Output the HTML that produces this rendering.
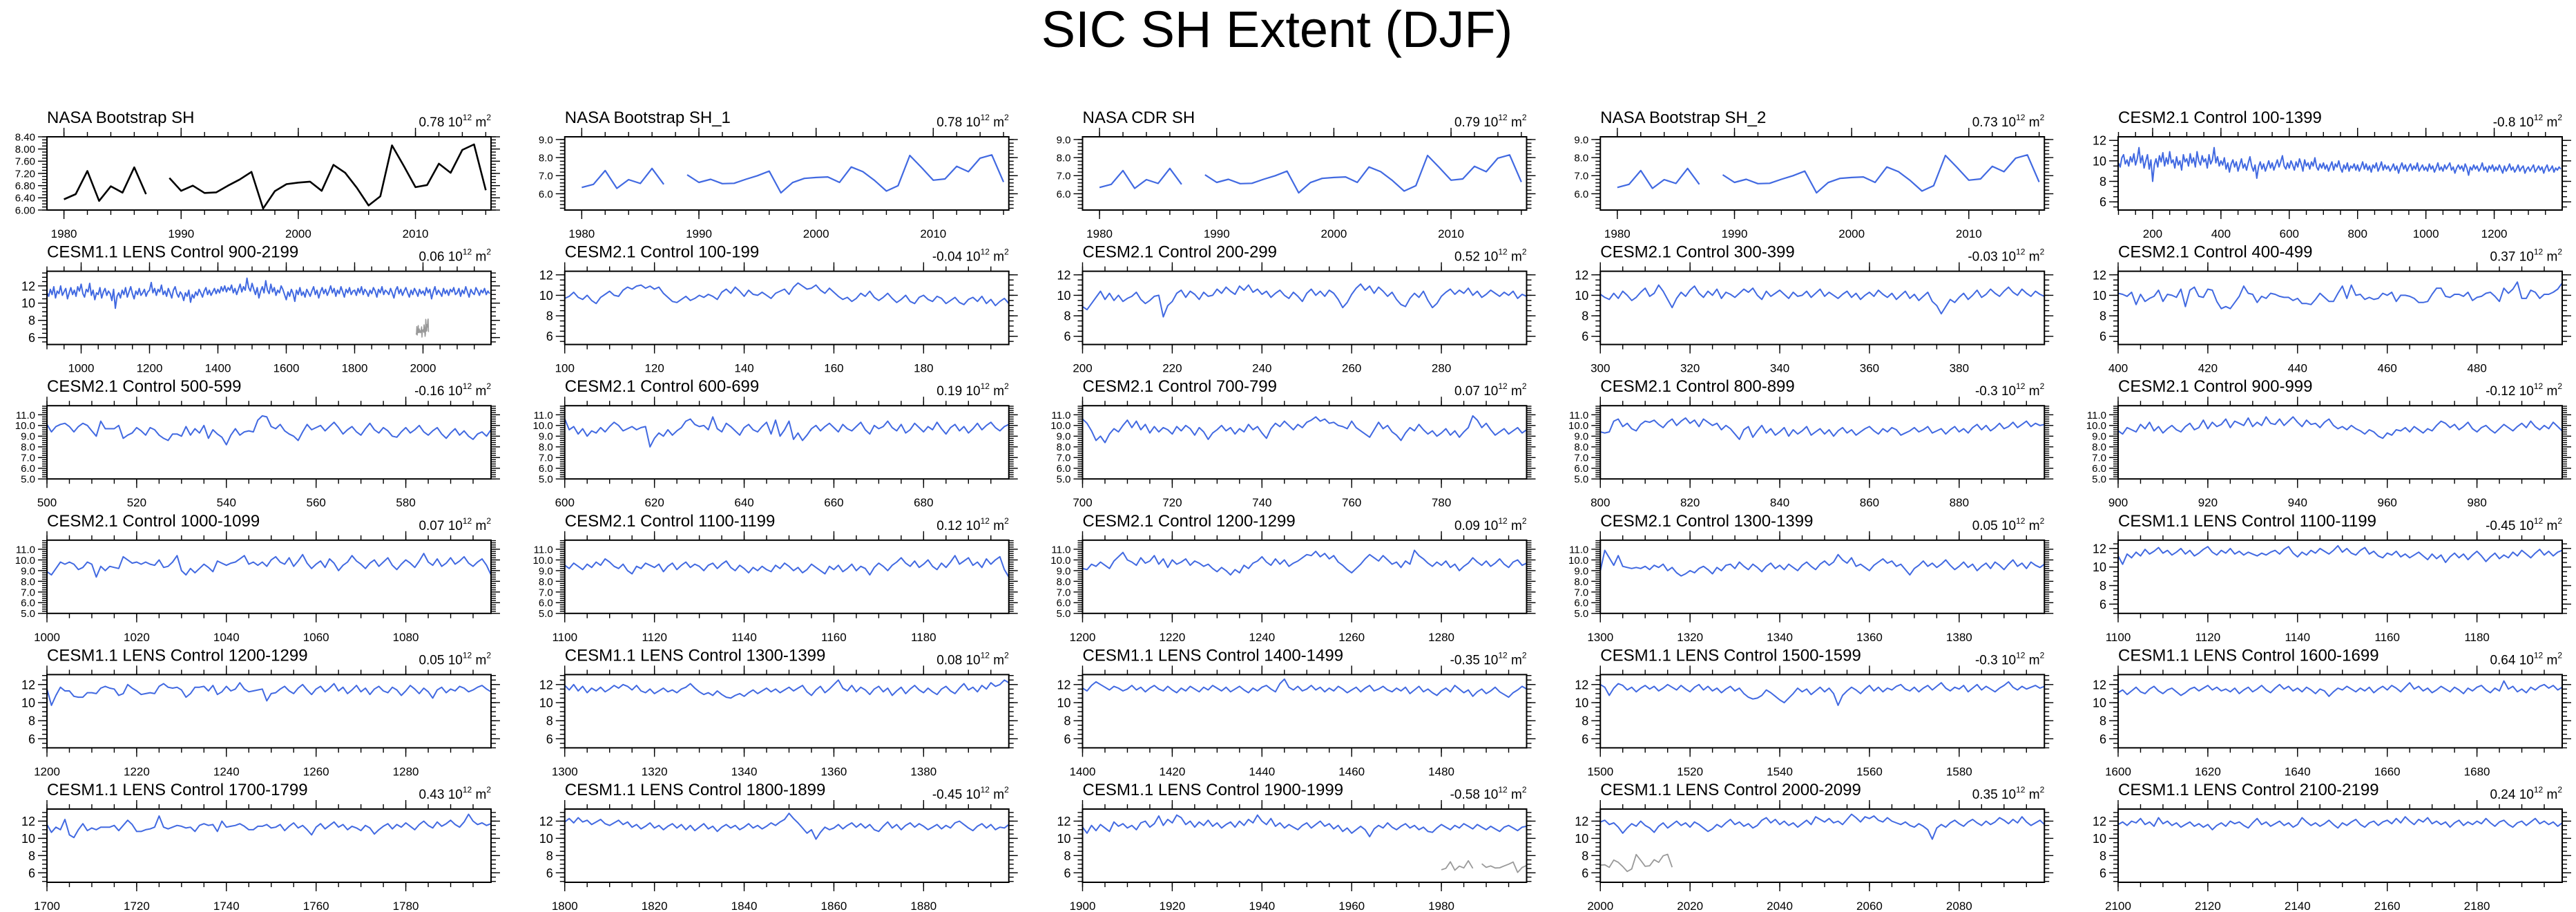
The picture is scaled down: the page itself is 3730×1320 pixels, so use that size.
<!DOCTYPE html>
<html><head><meta charset="utf-8"><title>SIC SH Extent (DJF)</title>
<style>
html,body{margin:0;padding:0;background:#fff;}
svg{display:block;font-family:"Liberation Sans",Arial,sans-serif;}
</style></head>
<body>
<svg id="fig" width="3730" height="1320" viewBox="0 0 3730 1320" xmlns="http://www.w3.org/2000/svg">
<rect width="3730" height="1320" fill="#fff"/>
<text x="1849" y="68" font-size="74" text-anchor="middle" fill="#000">SIC SH Extent (DJF)</text>
</svg>
<script>
// ---------- data (top-level arrays) ----------
const obsStart = 1980;
const obsBootstrap = [6.35,6.52,7.28,6.30,6.78,6.57,7.40,6.52,null,7.05,6.63,6.80,6.56,6.58,6.80,7.00,7.25,6.05,6.62,6.85,6.90,6.93,6.63,7.48,7.22,6.73,6.15,6.45,8.12,7.45,6.75,6.82,7.52,7.22,7.97,8.15,6.65];
const obsBootstrap1 = [6.35,6.52,7.28,6.30,6.78,6.57,7.40,6.52,null,7.05,6.63,6.80,6.56,6.58,6.80,7.00,7.25,6.05,6.62,6.85,6.90,6.93,6.63,7.48,7.22,6.73,6.15,6.45,8.12,7.45,6.75,6.82,7.52,7.22,7.97,8.15,6.65];
const obsCDR = [6.35,6.52,7.28,6.30,6.78,6.57,7.40,6.52,null,7.05,6.63,6.80,6.56,6.58,6.80,7.00,7.25,6.05,6.62,6.85,6.90,6.93,6.63,7.48,7.22,6.73,6.15,6.45,8.12,7.45,6.75,6.82,7.52,7.22,7.97,8.15,6.65];
const obsBootstrap2 = [6.35,6.52,7.28,6.30,6.78,6.57,7.40,6.52,null,7.05,6.63,6.80,6.56,6.58,6.80,7.00,7.25,6.05,6.62,6.85,6.90,6.93,6.63,7.48,7.22,6.73,6.15,6.45,8.12,7.45,6.75,6.82,7.52,7.22,7.97,8.15,6.65];

// long runs sampled every 5 years
const lens900Start = 900, lens900Step = 5;
const lens900_2199 = [
11.2,10.8,11.6,11.0,11.9,10.6,11.4,11.1,12.0,10.9,11.3,11.7,10.5,11.2,11.8,11.0,11.5,10.8,11.9,11.4,
12.2,11.1,10.7,11.6,11.3,12.3,10.9,11.5,10.4,11.2,11.0,11.8,10.6,11.3,11.7,10.9,11.4,11.1,10.3,11.6,
9.4,10.8,11.2,10.6,11.5,11.0,11.8,10.7,11.3,11.9,11.1,10.5,11.4,11.0,11.7,10.9,11.2,11.6,10.8,11.3,
11.5,12.4,11.2,11.7,10.9,11.6,11.3,12.1,11.0,11.4,10.8,11.7,11.2,10.6,11.5,11.9,11.1,10.7,11.3,11.0,
10.3,11.2,10.8,11.5,10.1,11.0,10.6,11.3,10.9,11.6,11.2,10.7,11.4,11.8,11.0,11.5,10.9,11.3,11.7,11.1,
11.6,11.2,11.9,11.4,12.0,11.3,11.8,11.5,12.1,11.2,11.7,11.0,11.6,12.2,11.3,11.9,11.5,12.9,11.8,11.4,
12.3,11.6,11.0,11.8,10.6,11.4,11.9,11.2,12.6,11.5,11.1,12.2,11.3,11.8,10.9,11.5,11.2,12.0,11.6,11.0,
10.4,11.3,10.8,11.6,11.1,10.2,11.5,11.0,11.8,10.9,11.3,10.7,11.6,11.2,10.8,11.4,11.9,11.0,11.5,10.6,
11.3,11.8,11.1,11.6,10.9,11.4,12.0,11.2,11.7,10.8,11.5,11.1,11.9,11.3,10.7,11.6,11.2,11.8,11.0,11.4,
11.5,10.9,11.7,11.2,11.9,11.0,11.6,11.3,10.8,11.5,11.1,11.8,11.4,10.7,11.6,11.2,11.9,11.0,11.5,11.3,
11.0,11.7,11.2,10.6,11.5,11.9,11.1,11.6,10.9,11.4,11.8,11.2,10.7,11.5,11.0,11.7,11.3,10.8,11.6,11.1,
11.4,10.9,11.8,11.2,11.6,10.5,11.3,11.9,11.0,11.5,11.2,10.8,11.7,11.1,11.5,10.9,11.6,11.3,11.8,11.0,
11.2,11.7,10.8,11.5,11.1,11.9,11.3,10.7,11.6,11.2,11.0,11.8,11.4,10.9,11.5,11.2,11.7,11.0,11.4,11.1];
const cesm2Start = 100, cesm2Step = 5;
const cesm2_100_1399 = [
9.8,9.4,10.3,10.6,9.7,10.1,9.5,10.4,9.9,10.7,9.6,10.2,11.3,9.8,10.5,9.3,10.0,10.6,9.2,10.1,
8.0,9.6,10.2,9.4,10.5,9.9,10.8,9.5,10.3,9.7,10.9,9.8,10.1,9.3,10.4,9.6,10.0,9.1,10.6,9.9,
10.2,9.5,10.7,9.8,10.3,9.4,10.9,10.0,9.6,10.5,9.9,10.2,9.3,10.6,9.7,10.1,11.3,9.8,10.4,9.5,
10.0,9.6,10.3,9.2,9.8,8.9,9.7,10.1,9.4,9.9,9.0,9.6,10.2,9.3,9.7,9.1,9.8,10.4,9.5,9.0,
9.6,8.3,9.4,9.9,9.2,9.7,9.0,9.5,10.0,9.3,9.8,9.1,9.6,10.1,9.4,9.9,10.5,9.5,9.2,9.8,
9.3,10.0,9.6,9.1,9.9,9.4,10.2,9.7,9.0,10.1,9.5,9.8,9.2,9.9,9.5,10.3,9.4,9.1,9.7,9.3,
9.8,9.2,9.6,9.0,9.5,9.9,9.1,9.7,9.4,10.0,9.3,8.9,9.6,9.2,9.8,9.0,9.5,9.3,9.7,9.1,
9.6,9.0,9.4,9.9,9.2,9.7,9.1,9.5,8.9,9.6,9.3,9.8,9.0,9.4,9.9,9.1,9.6,9.2,9.5,9.0,
9.3,9.7,9.1,9.5,8.8,9.4,9.8,9.2,9.6,9.0,9.4,9.7,9.1,9.5,9.2,9.8,9.0,9.3,9.6,9.1,
9.4,9.0,9.7,9.2,9.5,8.9,9.3,9.8,9.1,9.4,9.0,9.6,9.2,9.5,9.8,9.1,9.4,8.8,9.3,9.6,
9.2,9.5,9.0,9.7,9.3,8.6,9.4,9.1,9.6,9.2,9.5,9.0,9.3,9.8,9.1,9.4,8.9,9.5,9.2,9.6,
9.0,9.4,9.1,9.6,9.2,8.8,9.5,9.0,9.3,9.7,9.1,9.4,8.9,9.2,9.6,9.0,9.3,9.5,8.8,9.2,
9.4,9.0,9.3,9.6,8.9,9.2,9.5,9.1,9.4,8.8,9.3,9.6,9.0,9.2,9.5,8.9,9.3,9.1,9.4,9.2];

// century runs (annual)
const c2_100 = [9.7,9.9,10.3,9.8,9.6,10.0,9.5,9.2,9.8,10.1,10.4,10.0,9.9,10.5,10.8,10.6,10.9,11.0,10.7,10.9,10.6,10.8,10.2,9.8,9.4,9.3,9.6,9.9,9.5,9.7,10.0,9.8,10.1,9.9,9.6,10.3,10.6,10.2,10.8,10.4,9.9,10.5,10.1,10.0,10.3,10.0,9.7,10.2,10.4,10.6,10.1,10.8,11.2,10.9,10.6,10.7,11.0,10.5,10.2,10.7,10.3,9.9,9.6,9.8,9.4,9.7,10.2,9.9,10.4,9.8,9.5,9.8,10.2,9.7,9.3,9.6,10.0,9.4,9.2,9.8,10.0,9.6,9.4,9.9,9.7,9.2,9.5,9.8,9.3,9.1,9.6,9.8,9.4,9.9,9.2,9.6,9.0,9.4,9.7,9.2];
const c2_200 = [8.9,8.6,9.2,9.8,10.4,9.6,10.2,9.5,10.0,9.4,9.7,9.9,10.3,9.6,9.2,9.5,9.9,10.0,7.9,9.0,9.4,10.2,10.5,9.8,10.4,10.1,9.6,10.3,9.9,10.0,10.6,10.2,10.8,10.4,10.1,10.9,10.5,11.0,10.3,10.6,10.1,10.4,9.8,10.2,10.5,10.0,9.7,10.3,9.9,9.4,10.2,10.6,10.0,10.4,9.9,10.5,10.2,9.6,8.8,9.3,10.1,10.7,11.1,10.5,10.9,10.2,10.8,10.4,9.9,10.3,9.6,9.1,8.9,9.7,10.2,9.8,10.4,9.5,8.8,9.2,9.9,10.3,10.6,10.1,10.5,10.2,10.7,10.0,10.4,9.8,10.1,10.5,10.2,9.9,10.3,10.0,10.4,9.7,10.1,9.9];
const c2_300 = [10.1,9.8,9.6,10.2,9.7,10.4,10.0,9.5,9.8,10.3,10.7,9.9,10.2,11.0,10.4,9.6,8.8,9.7,10.3,9.9,10.5,10.9,10.2,9.8,10.4,10.0,10.6,9.7,10.3,10.1,9.8,10.2,10.6,10.3,10.7,10.0,9.6,10.4,9.9,10.2,10.5,10.1,9.7,10.3,9.9,10.0,10.4,9.8,10.2,10.6,9.9,10.3,10.0,9.7,10.1,10.4,9.8,10.2,9.6,10.0,10.3,9.9,10.5,10.1,9.8,10.2,9.6,10.0,10.4,9.7,10.1,9.5,9.9,10.3,9.4,9.0,8.2,8.9,9.6,9.3,9.8,10.2,9.6,10.0,10.5,9.8,10.1,10.6,10.2,9.9,10.4,10.8,10.3,10.0,10.6,10.2,9.9,10.4,10.1,9.9];
const c2_400 = [10.2,10.1,9.9,10.3,9.1,10.1,9.4,9.7,9.9,10.5,9.4,10.1,10.0,9.8,10.6,8.9,10.5,10.8,9.9,9.8,10.6,10.5,9.4,8.7,8.9,8.7,9.3,9.9,10.9,10.2,10.1,9.3,9.9,9.7,10.2,10.1,9.9,9.8,9.8,9.5,9.7,9.2,9.2,9.1,9.6,10.2,9.8,9.4,9.4,10.2,10.9,9.7,11.0,10.0,10.1,9.6,9.8,9.6,9.7,10.2,10.0,10.3,9.4,10.0,10.0,9.9,9.7,9.3,9.3,9.4,10.1,10.7,10.7,9.9,9.8,10.1,10.1,9.9,10.3,9.5,9.8,9.9,10.2,10.3,9.9,9.4,10.7,10.2,10.6,11.3,9.7,9.7,10.5,10.3,9.7,10.1,10.1,10.3,10.6,11.2];
const c2_500 = [10.1,9.4,9.9,10.1,10.2,9.9,9.4,9.9,10.2,10.0,9.5,9.0,10.4,9.7,9.7,9.7,10.0,8.8,9.1,9.3,9.8,9.5,9.1,9.8,9.6,9.1,8.8,8.6,9.2,9.2,9.0,9.9,9.1,9.7,9.3,10.0,8.8,9.6,9.2,8.9,8.2,9.1,9.7,9.1,9.4,9.5,9.4,10.5,10.9,10.8,9.9,9.7,10.1,9.5,9.2,9.0,8.6,9.4,10.1,9.6,9.8,10.0,9.5,9.9,10.3,9.8,9.2,9.6,9.9,9.4,9.1,9.7,10.2,9.6,9.3,9.8,9.5,9.0,8.9,9.4,9.8,9.3,9.6,10.0,9.4,9.1,9.5,9.8,9.2,8.8,9.3,9.7,9.1,9.5,9.0,8.7,9.2,9.4,9.0,9.6];
const c2_600 = [10.6,9.6,9.9,9.2,9.7,9.0,9.5,9.3,9.8,9.4,9.9,10.3,10.0,9.5,9.7,9.9,9.6,9.8,9.9,8.0,8.8,9.3,9.0,9.6,9.1,9.5,9.8,10.4,10.6,10.1,9.9,10.0,9.6,10.8,9.7,9.4,10.2,9.9,9.5,9.1,9.8,10.1,9.6,9.4,9.9,10.3,9.2,10.5,9.0,9.6,10.4,8.7,9.3,8.6,9.1,9.7,10.0,9.5,9.9,10.2,9.8,9.4,10.1,9.7,9.5,9.9,10.3,9.6,9.2,10.0,9.7,9.9,10.4,9.8,9.5,10.1,9.3,9.6,10.2,9.8,9.4,9.9,9.6,10.3,9.7,9.2,9.8,10.1,9.5,9.9,9.3,9.7,10.2,9.6,10.0,10.3,9.8,9.5,9.9,10.1];
const c2_700 = [10.6,10.2,9.5,8.6,9.0,8.4,9.2,9.7,9.4,10.0,10.5,9.8,10.4,9.6,10.1,9.3,9.9,9.4,9.8,9.6,9.2,9.9,9.5,10.0,9.7,9.1,9.8,9.4,8.7,9.3,9.6,10.0,9.5,9.8,9.2,9.7,9.4,10.1,9.6,9.9,9.3,8.8,9.7,10.2,9.9,10.4,10.0,9.6,10.1,9.8,10.3,10.5,10.8,10.4,10.6,10.2,10.3,10.0,9.9,9.7,10.4,9.8,9.5,9.2,8.9,9.6,10.3,9.7,10.0,9.4,9.1,8.6,9.3,9.8,9.5,10.1,9.6,9.2,9.5,9.0,9.3,9.7,9.1,9.5,8.9,9.4,9.8,10.9,10.5,9.8,10.2,9.6,9.1,9.4,9.7,9.2,9.5,9.8,9.3,9.6];
const c2_800 = [9.4,9.3,9.4,10.4,10.6,9.9,10.2,9.7,9.5,10.1,10.4,10.3,10.5,10.1,9.8,10.3,10.6,10.0,10.4,10.7,10.2,10.5,9.9,10.6,10.3,10.0,10.2,9.6,10.0,9.7,9.2,8.7,9.6,9.9,8.9,9.5,10.0,9.3,9.7,9.1,9.4,9.8,9.0,9.6,9.2,9.5,9.9,9.1,9.4,9.7,9.2,9.6,9.0,9.5,9.8,9.3,9.6,9.1,9.4,9.7,9.9,9.5,9.2,9.7,9.4,9.8,9.6,9.1,9.3,9.5,9.8,9.4,9.6,9.9,9.3,9.5,9.7,9.2,9.6,9.9,9.4,9.7,9.3,9.8,10.1,9.6,10.0,9.5,9.8,10.2,9.7,9.9,10.3,9.8,10.1,10.4,9.9,10.2,10.0,10.1];
const c2_900 = [9.5,9.2,9.8,9.6,9.4,10.1,9.7,10.3,9.5,9.9,9.3,9.7,10.0,9.6,9.4,9.9,10.2,9.6,9.8,10.5,9.7,10.3,9.9,10.1,10.6,9.8,10.4,10.2,10.0,10.7,9.9,10.3,10.0,10.8,10.2,10.1,10.6,10.0,10.4,10.8,10.3,9.9,10.5,10.1,10.2,9.8,10.3,10.6,10.0,9.7,9.9,9.6,10.0,9.7,9.5,9.2,9.6,9.4,9.0,8.8,9.3,9.1,9.6,9.5,9.8,9.4,9.9,9.6,9.3,9.7,9.5,10.0,10.4,10.2,9.8,10.1,9.6,9.9,10.3,9.7,9.4,9.8,10.0,9.6,9.3,9.7,10.1,9.8,9.5,9.9,10.2,9.8,10.4,9.9,9.6,10.0,9.7,10.3,9.9,9.5];
const c2_1000 = [8.9,8.6,9.2,9.8,9.6,9.8,9.6,9.1,9.3,9.8,9.6,8.4,9.4,9.0,9.4,9.3,9.2,10.3,10.0,9.7,9.8,9.6,9.8,9.6,9.5,10.0,9.3,9.4,9.8,10.4,9.0,8.6,9.2,8.8,9.2,9.6,9.3,8.9,9.9,9.7,9.5,9.7,9.8,10.1,10.4,9.6,9.8,9.5,9.8,9.4,10.0,10.3,9.8,9.6,10.2,9.4,9.9,10.5,9.7,9.2,9.6,9.9,9.3,10.1,9.7,9.0,9.5,9.8,10.4,9.9,9.6,9.2,9.7,10.0,9.4,9.8,10.2,9.5,9.1,9.6,10.0,9.7,9.3,9.9,10.6,9.8,9.5,10.1,9.4,9.7,10.2,9.6,9.9,10.3,9.7,9.4,9.8,10.1,9.5,8.6];
const c2_1100 = [9.5,9.2,9.7,9.4,9.1,9.6,9.3,9.8,9.5,10.1,9.8,9.4,9.2,9.6,9.0,8.7,9.4,9.2,9.7,9.5,9.3,9.6,8.9,9.4,9.7,9.1,9.5,9.8,9.3,9.6,9.4,9.0,9.5,9.7,9.2,9.6,9.9,9.3,9.0,9.5,9.2,8.8,9.3,9.0,9.4,9.1,8.9,9.5,9.2,9.7,9.4,9.0,9.3,8.8,9.1,9.6,9.3,9.0,8.7,9.4,9.1,9.5,8.9,9.2,9.6,9.0,9.4,9.2,8.6,9.3,9.7,9.4,9.0,9.5,9.8,10.2,9.7,9.4,9.9,9.3,9.6,10.0,9.4,9.1,9.7,9.3,9.8,10.4,9.6,9.9,10.2,9.5,9.8,9.3,10.1,9.6,10.0,10.3,9.1,8.4];
const c2_1200 = [9.2,9.1,9.6,9.4,9.8,9.5,9.2,9.9,10.3,10.7,10.0,9.8,9.5,10.2,9.7,9.9,10.4,9.6,10.1,9.3,10.0,9.6,9.8,10.1,9.5,9.9,9.7,9.4,9.6,9.2,8.9,9.3,9.0,8.6,9.1,8.8,9.5,9.2,9.7,9.9,10.3,9.8,9.5,10.1,9.6,10.0,9.4,9.7,9.9,10.2,10.5,10.4,10.8,10.3,10.6,10.1,10.4,9.8,9.5,9.1,8.8,9.2,9.6,10.1,10.5,10.2,9.9,10.4,10.0,9.6,9.8,9.3,9.9,9.6,10.9,10.4,10.1,9.7,9.4,9.8,9.5,9.9,9.3,9.6,9.0,9.4,9.7,10.2,9.8,9.5,9.9,9.4,9.7,10.1,9.6,9.3,9.8,10.0,9.5,9.7];
const c2_1300 = [9.0,10.9,10.2,9.5,10.4,9.4,9.3,9.2,9.3,9.2,9.4,9.1,9.5,9.3,9.6,9.0,9.3,8.8,8.5,8.7,9.0,8.8,9.2,9.4,9.1,8.7,9.3,9.0,9.5,9.6,9.2,9.8,9.4,9.1,9.6,9.3,8.9,9.4,9.7,9.2,9.5,9.1,9.6,9.3,9.0,9.5,9.8,9.4,9.1,9.6,9.9,9.5,9.8,10.5,10.0,9.7,10.2,9.4,9.6,9.3,9.0,9.5,9.8,10.1,9.7,9.9,9.4,9.6,9.1,8.6,9.2,9.5,9.9,9.4,9.7,9.3,9.6,10.0,9.5,9.1,9.4,9.8,9.3,9.6,9.0,9.4,9.7,9.2,9.8,9.5,9.1,9.6,10.0,9.4,9.7,9.2,9.8,9.5,9.3,9.6];
const l_1100 = [11.2,10.3,11.4,11.0,11.6,11.2,11.9,11.4,11.7,12.1,11.5,11.8,11.3,11.6,12.0,11.4,11.8,11.2,11.5,11.9,12.2,11.6,11.3,11.8,11.5,12.0,11.4,11.7,11.3,11.6,11.4,11.2,11.5,11.3,11.6,11.8,11.4,11.9,12.2,11.5,11.1,11.6,11.3,11.8,11.5,12.0,11.7,11.4,11.8,12.3,11.6,12.0,11.5,11.3,11.8,12.1,11.4,11.7,11.2,11.0,11.5,11.3,11.7,11.1,11.4,11.0,11.3,11.6,11.2,10.8,11.4,10.9,11.3,10.5,11.1,11.5,11.0,11.4,10.8,11.3,11.7,11.2,10.6,11.1,11.5,10.9,11.3,11.0,11.6,11.2,11.8,11.4,11.0,11.5,11.9,11.3,11.7,11.2,11.6,11.8];
const l_1200 = [11.5,9.7,10.8,11.7,11.3,11.3,10.7,10.6,10.6,11.1,11.1,11.0,11.6,11.8,11.6,11.5,10.8,11.0,12.0,11.6,11.3,10.9,11.0,11.1,11.0,11.8,12.1,11.7,11.6,11.7,11.4,10.6,11.0,11.7,11.7,11.8,11.3,11.9,10.9,11.2,11.8,11.3,11.5,12.2,11.5,11.2,11.3,11.4,11.5,10.2,11.0,11.1,11.5,11.8,11.3,11.0,11.6,12.0,11.4,10.9,11.5,11.8,11.2,11.6,12.1,11.3,11.7,11.0,11.4,11.9,11.2,11.6,10.9,11.5,11.8,11.3,11.1,11.7,11.4,10.8,11.3,11.9,11.5,11.0,11.6,11.2,10.5,11.4,11.7,11.1,11.5,11.3,11.8,11.6,11.2,11.4,11.7,11.9,11.5,11.2];
const l_1300 = [11.9,11.4,12.0,11.3,11.8,11.1,11.6,11.3,11.7,11.2,11.5,11.9,11.6,12.0,11.8,11.4,11.9,11.3,11.1,11.5,11.0,11.3,11.6,11.2,11.4,11.1,11.5,11.7,12.1,11.6,11.2,10.9,11.1,10.8,11.3,10.9,10.6,10.5,10.8,11.0,10.7,11.1,11.4,11.0,11.3,11.6,11.2,11.5,11.1,11.4,11.7,11.3,11.6,11.9,11.2,10.8,11.4,11.8,11.1,11.5,12.0,12.5,11.6,11.3,11.9,11.2,11.7,11.4,10.9,11.5,11.8,11.2,11.6,10.8,11.3,11.7,11.0,11.5,11.9,11.4,11.1,11.6,11.2,10.9,11.5,11.8,11.3,11.0,11.6,12.1,11.4,11.7,11.2,11.9,11.5,12.2,11.8,12.0,12.5,12.2];
const l_1400 = [11.6,11.3,11.9,12.3,12.0,11.7,11.4,11.8,11.6,11.3,11.5,11.9,11.4,11.7,11.2,11.6,11.9,11.5,11.3,11.8,11.4,11.1,11.6,11.3,11.8,11.5,11.2,11.7,11.4,11.9,11.6,11.3,11.7,11.2,11.5,11.8,11.4,11.1,11.6,11.3,11.7,11.9,11.5,11.2,12.1,12.6,11.7,11.4,11.8,11.3,11.5,11.9,11.4,11.7,11.2,11.6,11.3,11.8,11.5,11.1,11.4,11.7,11.2,11.6,11.9,11.3,11.5,11.8,11.4,11.2,11.6,11.3,11.7,11.0,11.4,11.8,11.2,11.5,11.1,10.8,11.3,11.6,11.2,11.9,11.5,11.1,11.4,10.7,11.2,11.5,11.0,11.3,11.7,11.2,10.9,10.6,11.1,11.4,11.8,11.5];
const l_1500 = [12.0,11.7,10.8,11.6,12.1,11.9,11.4,11.7,11.2,11.6,11.9,11.5,11.8,11.3,11.6,12.0,11.7,11.4,11.9,11.5,11.2,11.7,12.0,11.4,11.8,11.3,11.6,11.1,11.5,11.8,11.3,11.6,11.0,10.6,10.4,10.5,10.8,11.4,11.1,10.7,10.3,10.0,10.5,11.0,11.6,11.2,11.5,10.9,11.3,11.7,11.2,11.6,11.0,9.7,10.8,11.3,11.7,11.4,11.0,11.5,11.9,11.3,11.7,11.2,11.6,11.4,11.8,12.0,11.5,11.3,11.7,11.2,11.6,11.9,11.4,11.8,12.2,11.6,11.3,11.7,11.5,11.9,11.2,11.6,12.0,11.4,11.8,11.5,11.2,11.6,11.9,12.3,11.7,11.4,11.8,11.5,11.7,11.9,11.6,11.8];
const l_1600 = [11.1,11.4,10.9,11.3,11.7,11.2,11.0,11.5,11.8,11.3,11.0,11.4,11.6,11.2,10.8,11.1,11.5,11.7,11.3,11.6,11.9,11.4,11.7,11.3,11.5,11.2,11.6,11.0,11.4,11.7,11.2,11.5,11.9,11.4,11.1,11.6,12.0,11.5,11.8,11.3,11.6,11.2,11.7,11.4,11.0,11.5,11.3,10.7,11.2,11.6,11.4,11.8,11.5,11.2,11.6,11.3,11.7,11.1,11.5,11.8,11.4,11.9,11.6,11.2,11.7,12.2,11.5,11.8,11.3,11.6,11.1,11.4,11.8,11.5,11.2,11.7,11.4,11.0,11.6,11.3,11.7,11.9,11.4,11.1,11.6,11.3,12.4,11.5,11.8,11.2,11.5,11.1,11.7,11.4,11.8,12.0,11.6,11.9,11.4,11.7];
const l_1700 = [11.6,10.7,11.3,11.0,12.2,10.4,10.1,11.0,11.7,10.9,11.2,11.0,11.3,11.3,11.3,11.5,10.9,11.5,12.1,11.6,10.8,10.8,11.0,11.1,11.3,12.6,11.3,11.1,11.3,11.5,11.4,11.2,11.3,10.8,11.5,11.7,11.5,11.6,10.8,12.0,11.3,11.4,11.5,11.7,11.4,11.0,11.0,11.4,11.4,11.6,11.2,11.3,11.6,10.9,11.4,11.8,11.2,11.5,11.0,10.4,11.3,11.7,11.1,11.5,11.9,11.3,11.6,11.0,11.4,11.2,10.9,11.5,11.2,10.5,11.0,11.4,11.7,11.1,11.6,11.3,11.8,11.4,11.0,11.6,12.0,11.5,11.2,11.9,11.4,11.7,12.1,11.6,11.3,11.9,12.8,12.0,11.6,11.8,11.5,11.7];
const l_1800 = [11.9,12.3,11.8,12.4,11.9,12.1,11.6,11.9,12.2,11.7,11.5,11.8,12.1,11.6,11.9,11.3,11.6,11.1,11.4,11.8,11.2,11.5,11.0,11.4,11.7,11.2,11.6,11.0,11.5,10.9,11.3,11.7,11.1,11.4,10.8,11.3,11.6,11.2,11.5,11.0,11.3,11.7,11.2,11.5,11.1,11.4,11.8,11.5,11.9,12.2,12.9,12.3,11.8,11.2,10.6,11.0,9.9,10.7,11.3,11.0,11.2,11.6,11.1,11.5,11.8,11.3,11.7,11.2,11.6,11.0,10.8,11.4,11.9,11.2,11.6,11.0,11.5,11.8,11.3,11.7,11.4,11.0,11.3,11.6,11.1,11.5,11.2,11.8,12.0,11.6,11.2,10.9,11.4,11.7,11.2,11.6,11.0,11.3,11.2,11.6];
const l_1900 = [11.3,10.6,11.5,10.9,11.6,11.2,10.8,11.9,11.4,11.7,11.2,11.5,11.0,11.8,12.0,11.3,11.7,12.6,11.5,12.2,11.8,12.7,12.4,11.6,12.0,11.3,11.9,11.5,12.1,11.4,11.8,11.2,11.6,11.9,11.3,12.0,11.5,12.2,11.8,12.7,12.0,11.6,12.3,11.4,11.8,11.2,11.6,11.3,11.0,11.5,11.8,11.2,11.6,12.0,11.4,11.7,11.1,11.5,10.8,11.2,10.6,11.0,11.4,11.0,10.2,11.1,11.5,11.2,11.8,11.3,11.0,11.4,11.7,11.2,11.5,11.0,11.3,10.8,10.7,11.2,11.6,11.3,11.0,11.5,11.2,11.7,11.4,11.1,11.6,11.3,11.0,11.4,11.1,10.8,11.3,11.5,11.2,10.9,11.3,11.4];
const l_2000 = [11.9,12.1,11.6,11.8,11.3,10.6,11.2,11.7,11.4,12.0,11.5,11.2,10.7,11.4,11.8,11.2,11.6,12.0,11.5,11.8,11.3,11.9,11.6,11.2,10.8,11.1,11.6,11.3,11.8,12.2,11.6,11.9,11.4,11.7,11.2,11.5,12.1,12.4,11.8,12.2,11.6,12.0,11.5,11.8,11.3,11.7,12.1,11.6,12.5,12.2,11.9,12.3,11.8,12.0,11.6,12.2,12.8,12.4,11.9,12.5,12.3,12.6,12.1,11.9,12.4,12.0,11.8,11.6,11.9,11.5,11.3,11.7,11.4,11.0,9.9,11.2,11.6,11.3,11.8,12.1,11.7,11.4,11.9,12.2,11.8,11.5,12.0,11.6,11.9,12.4,12.1,11.7,12.2,11.8,12.5,11.9,11.5,11.8,12.1,11.6];
const l_2100 = [11.6,11.9,11.5,12.0,11.8,12.3,11.6,11.9,11.4,12.4,11.7,12.0,11.5,11.8,11.3,11.6,11.9,11.4,11.7,11.3,11.6,11.0,11.5,11.8,11.4,12.0,11.7,11.9,11.5,11.2,11.8,12.3,11.6,11.9,11.4,11.7,12.0,11.5,11.8,11.3,11.6,12.4,11.9,11.5,11.8,11.4,11.7,12.1,11.6,11.2,11.8,11.5,11.9,12.2,11.6,11.3,11.8,12.0,11.5,11.9,12.1,11.7,12.3,11.8,12.5,12.0,11.6,12.2,11.9,12.4,11.7,12.0,11.6,11.9,11.3,11.8,12.1,11.5,11.9,11.6,12.0,11.7,12.3,11.8,11.4,11.9,12.1,11.6,11.3,11.8,12.0,11.5,11.9,12.3,11.7,12.0,11.6,11.9,11.4,11.8];

const panelTitles = [
"NASA Bootstrap SH","NASA Bootstrap SH_1","NASA CDR SH","NASA Bootstrap SH_2","CESM2.1 Control 100-1399",
"CESM1.1 LENS Control 900-2199","CESM2.1 Control 100-199","CESM2.1 Control 200-299","CESM2.1 Control 300-399","CESM2.1 Control 400-499",
"CESM2.1 Control 500-599","CESM2.1 Control 600-699","CESM2.1 Control 700-799","CESM2.1 Control 800-899","CESM2.1 Control 900-999",
"CESM2.1 Control 1000-1099","CESM2.1 Control 1100-1199","CESM2.1 Control 1200-1299","CESM2.1 Control 1300-1399","CESM1.1 LENS Control 1100-1199",
"CESM1.1 LENS Control 1200-1299","CESM1.1 LENS Control 1300-1399","CESM1.1 LENS Control 1400-1499","CESM1.1 LENS Control 1500-1599","CESM1.1 LENS Control 1600-1699",
"CESM1.1 LENS Control 1700-1799","CESM1.1 LENS Control 1800-1899","CESM1.1 LENS Control 1900-1999","CESM1.1 LENS Control 2000-2099","CESM1.1 LENS Control 2100-2199"];
const panelStats = ["0.78","0.78","0.79","0.73","-0.8","0.06","-0.04","0.52","-0.03","0.37","-0.16","0.19","0.07","-0.3","-0.12","0.07","0.12","0.09","0.05","-0.45","0.05","0.08","-0.35","-0.3","0.64","0.43","-0.45","-0.58","0.35","0.24"];
const centurySeries = [null,null,null,null,null,null,c2_100,c2_200,c2_300,c2_400,c2_500,c2_600,c2_700,c2_800,c2_900,c2_1000,c2_1100,c2_1200,c2_1300,l_1100,l_1200,l_1300,l_1400,l_1500,l_1600,l_1700,l_1800,l_1900,l_2000,l_2100];
const centuryStarts = [0,0,0,0,0,0,100,200,300,400,500,600,700,800,900,1000,1100,1200,1300,1100,1200,1300,1400,1500,1600,1700,1800,1900,2000,2100];
// y-axis domains per row-style
const yDomA=[6.0,8.4], yDomB=[5.1,9.15], yDomC=[5.2,12.35], yDomD=[5.2,13.7], yDomE=[5.0,11.85], yDomF=[5.0,12.9], yDomG=[5.0,13.1], yDomH=[4.9,13.4];

// ---------- layout ----------
const NS="http://www.w3.org/2000/svg";
const svg=document.getElementById('fig');
const BOX_L0=68, COL_STEP=749.75, BOX_W=643, BOX_T0=198, ROW_STEP=194.6, BOX_H=106;
const BLUE="#4169e1";
function mk(tag,attrs,parent){const e=document.createElementNS(NS,tag);for(const k in attrs)e.setAttribute(k,attrs[k]);(parent||svg).appendChild(e);return e;}

function rangeTicks(a,b,step){const r=[];const s=Math.ceil(a/step-1e-6);for(let k=s;k*step<=b+1e-6;k++)r.push(+(k*step).toFixed(6));return r;}

function drawPanel(idx,cfg){
  const col=idx%5,row=Math.floor(idx/5);
  const L=BOX_L0+col*COL_STEP,T=BOX_T0+row*ROW_STEP,R=L+BOX_W,B=T+BOX_H;
  const g=mk('g',{});
  
  
  const xs=v=>L+(v-cfg.xd[0])/(cfg.xd[1]-cfg.xd[0])*BOX_W;
  const ys=v=>B-(v-cfg.yd[0])/(cfg.yd[1]-cfg.yd[0])*BOX_H;
  // title + stat
  const t=mk('text',{x:L,y:T-20,'font-size':24,fill:'#000'},g);t.textContent=panelTitles[idx];
  
  
  const st=mk('text',{x:R,y:T-15,'font-size':19,'text-anchor':'end',fill:'#000'},g);
  
  
  st.innerHTML=panelStats[idx]+' 10<tspan dy="-9" font-size="12">12</tspan><tspan dy="9"> m</tspan><tspan dy="-9" font-size="12">2</tspan>';
  // ticks
  const tk=mk('g',{stroke:'#000','stroke-width':1.4},g);
  
  
  rangeTicks(cfg.xd[0],cfg.xd[1],cfg.xMinor).forEach(v=>{const x=xs(v);mk('line',{x1:x,x2:x,y1:B,y2:B+7},tk);mk('line',{x1:x,x2:x,y1:T,y2:T-7},tk);});
  rangeTicks(cfg.xd[0],cfg.xd[1],cfg.xMajor).forEach(v=>{const x=xs(v);mk('line',{x1:x,x2:x,y1:B,y2:B+13},tk);mk('line',{x1:x,x2:x,y1:T,y2:T-13},tk);
    const lb=mk('text',{x:x,y:B+40,'font-size':17,'text-anchor':'middle',fill:'#000',stroke:'none'},g);lb.textContent=String(v);
    
    });
  rangeTicks(cfg.yd[0],cfg.yd[1],cfg.yMinor).forEach(v=>{const y=ys(v);mk('line',{x1:L,x2:L-7,y1:y,y2:y},tk);mk('line',{x1:R,x2:R+7,y1:y,y2:y},tk);});
  rangeTicks(cfg.yd[0],cfg.yd[1],cfg.yMajor).forEach(v=>{const y=ys(v);mk('line',{x1:L,x2:L-13,y1:y,y2:y},tk);mk('line',{x1:R,x2:R+13,y1:y,y2:y},tk);
    const lb=mk('text',{x:L-17,y:y+cfg.yFs*0.36,'font-size':cfg.yFs,'text-anchor':'end',fill:'#000',stroke:'none'},g);lb.textContent=v.toFixed(cfg.yDec);
    
    });
  // clip
  const cid='clip'+idx;const cp=mk('clipPath',{id:cid},g);mk('rect',{x:L,y:T,width:BOX_W,height:BOX_H},cp);
  // series
  cfg.series.forEach(s=>{
    let d='',pen=false;
    s.vals.forEach((v,i)=>{if(v===null){pen=false;return;}const x=xs(s.start+i*s.step),y=ys(v);d+=(pen?'L':'M')+x.toFixed(1)+' '+y.toFixed(1);pen=true;});
    const p=mk('path',{d:d,fill:'none',stroke:s.color,'stroke-width':s.w,'stroke-linejoin':'round','clip-path':'url(#'+cid+')'},g);
    
    
  });
  const bx=mk('rect',{x:L,y:T,width:BOX_W,height:BOX_H,fill:'none',stroke:'#000','stroke-width':2},g);
  
  
}

const obsArrays=[obsBootstrap,obsBootstrap1,obsCDR,obsBootstrap2];
for(let i=0;i<4;i++){
  drawPanel(i,{slug:'obs-'+i,xd:[1978.55,2016.45],xMajor:10,xMinor:2,
    yd:i===0?yDomA:yDomB,yMajor:i===0?0.4:1,yMinor:i===0?0.1:0.2,yDec:i===0?2:1,yFs:15,
    series:[{vals:obsArrays[i],start:obsStart,step:1,color:i===0?'#000':BLUE,w:i===0?2.6:2.2,name:'obs-line'}]});
}
drawPanel(4,{slug:'cesm2-100-1399',xd:[99,1399],xMajor:200,xMinor:50,yd:yDomC,yMajor:2,yMinor:0.5,yDec:0,yFs:18,
  series:[{vals:cesm2_100_1399,start:cesm2Start,step:cesm2Step,color:BLUE,w:2,name:'model-line'}]});
drawPanel(5,{slug:'lens-900-2199',xd:[900,2199],xMajor:200,xMinor:50,yd:yDomD,yMajor:2,yMinor:0.5,yDec:0,yFs:18,
  series:[{vals:lens900_2199,start:lens900Start,step:lens900Step,color:BLUE,w:2,name:'model-line'},
          {vals:obsBootstrap,start:obsStart,step:1,color:'#999',w:1.6,name:'obs-overlay-line'}]});
for(let i=6;i<30;i++){
  const row=Math.floor(i/5),col=i%5;
  let yd,yMajor,yMinor,yDec,yFs;
  if(row===1){yd=yDomC;yMajor=2;yMinor=0.5;yDec=0;yFs=18;}
  else if(row===2||(row===3&&col<4)){yd=yDomE;yMajor=1;yMinor=0.2;yDec=1;yFs=15;}
  else if(row===3){yd=yDomF;yMajor=2;yMinor=0.5;yDec=0;yFs=18;}
  else if(row===4){yd=yDomG;yMajor=2;yMinor=0.5;yDec=0;yFs=18;}
  else {yd=yDomH;yMajor=2;yMinor=0.5;yDec=0;yFs=18;}
  const st=centuryStarts[i];
  const series=[{vals:centurySeries[i],start:st,step:1,color:BLUE,w:2,name:'model-line'}];
  if(st<=2016&&st+99>=1980)series.push({vals:obsBootstrap,start:obsStart,step:1,color:'#999',w:1.8,name:'obs-overlay-line'});
  drawPanel(i,{slug:'p'+i,xd:[st,st+99],xMajor:20,xMinor:5,yd,yMajor,yMinor,yDec,yFs,series});
}
</script>
</body></html>
